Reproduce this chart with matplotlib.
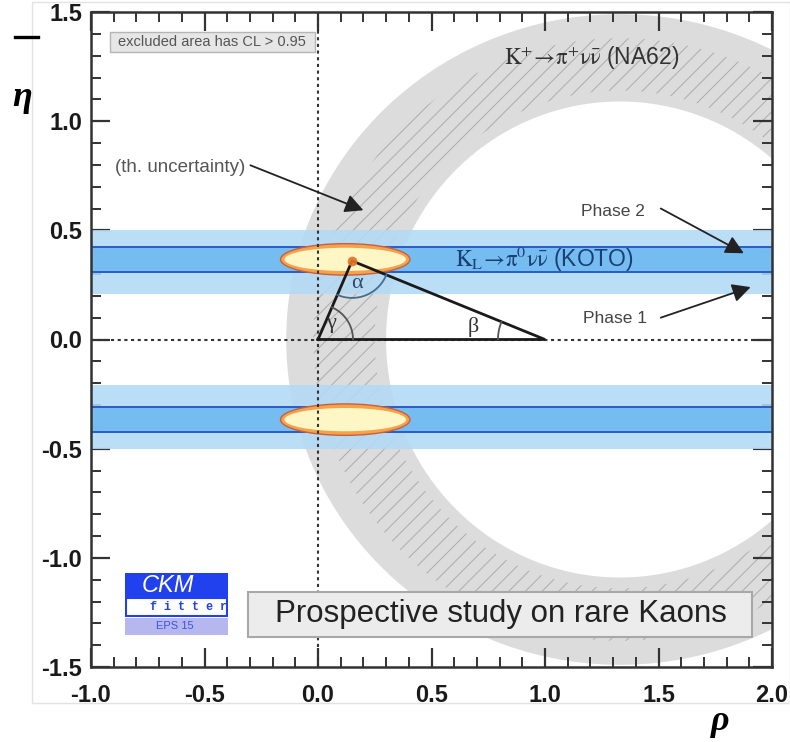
import numpy as np
import matplotlib
matplotlib.use('Agg')
import matplotlib.pyplot as plt
from matplotlib.patches import Ellipse, PathPatch, Rectangle
from matplotlib.path import Path
from matplotlib.lines import Line2D
from matplotlib.ticker import MultipleLocator

plt.rcParams['mathtext.fontset'] = 'stix'
plt.rcParams['axes.unicode_minus'] = False
plt.rcParams['hatch.linewidth'] = 0.7
plt.rcParams['hatch.color'] = '#ababab'

# K+ -> pi+ nu nubar (NA62): elliptical ring centred on the rho axis
ring_centre = 1.33
ring_outer = (1.47, 1.49)      # semi-axes (rho, eta)
ring_inner = (1.03, 1.09)
hatch_outer = (1.35, 1.38)     # theoretical uncertainty band
hatch_inner = (1.08, 1.14)

# K_L -> pi0 nu nubar (KOTO) bands in |eta|
phase1 = (0.21, 0.50)
phase2 = (0.31, 0.425)

# combined allowed regions (centre rho, centre |eta|, half widths)
combo_rho, combo_eta = 0.12, 0.367
combo_hw, combo_hh = 0.285, 0.072

# unitarity triangle
tri_rho = [0.0, 0.15, 1.0]
tri_eta = [0.0, 0.36, 0.0]

xticks = [-1.0, -0.5, 0.0, 0.5, 1.0, 1.5, 2.0]
yticks = [-1.5, -1.0, -0.5, 0.0, 0.5, 1.0, 1.5]


def ring_path(c, outer, inner, n=400):
    t = np.linspace(0, 2 * np.pi, n)
    out = np.column_stack([c + outer[0] * np.cos(t), outer[1] * np.sin(t)])
    inn = np.column_stack([c + inner[0] * np.cos(t[::-1]), inner[1] * np.sin(t[::-1])])
    codes = [Path.MOVETO] + [Path.LINETO] * (n - 2) + [Path.CLOSEPOLY]
    return Path(np.vstack([out, inn]), codes + codes)


W, H = 790, 742
fig = plt.figure(figsize=(W / 100, H / 100), dpi=100)
ax = fig.add_axes([91 / W, 1 - 667 / H, 681 / W, 655 / H])
ax.set_xlim(-1.0, 2.0)
ax.set_ylim(-1.5, 1.5)

# NA62 ring + hatched uncertainty
ax.add_patch(PathPatch(ring_path(ring_centre, ring_outer, ring_inner),
                       facecolor='#dcdcdc', edgecolor='none', zorder=1))
ax.add_patch(PathPatch(ring_path(ring_centre, hatch_outer, hatch_inner),
                       facecolor='none', edgecolor='#ababab', lw=0, hatch='//', zorder=1.1))

# KOTO bands, mirrored in eta
for s in (1, -1):
    lo1, hi1 = sorted([s * phase1[0], s * phase1[1]])
    lo2, hi2 = sorted([s * phase2[0], s * phase2[1]])
    ax.axhspan(lo1, hi1, color='#b2daf6', alpha=0.88, lw=0, zorder=2)
    ax.axhspan(lo2, hi2, color='#6fbaf0', alpha=0.92, lw=0, zorder=2.1)
    ax.axhline(lo2, color='#2b5cc4', lw=1.4, zorder=2.2)
    ax.axhline(hi2, color='#2b5cc4', lw=1.4, zorder=2.2)

    ax.add_patch(Ellipse((combo_rho, s * combo_eta), 2 * combo_hw, 2 * combo_hh,
                         facecolor='#f5a24a', edgecolor='#c86040', lw=1.0, zorder=3))
    ax.add_patch(Ellipse((combo_rho, s * combo_eta), 2 * combo_hw * 0.94, 2 * combo_hh * 0.74,
                         facecolor='#fff6c6', edgecolor='none', zorder=3.1))

# axes cross lines
ax.axvline(0, color='#333333', lw=1.5, ls=(0, (1.5, 1.7)), zorder=4)
ax.axhline(0, color='#333333', lw=1.5, ls=(0, (1.5, 1.7)), zorder=4)

# triangle
ax.plot(tri_rho + [tri_rho[0]], tri_eta + [tri_eta[0]], color='#1a1a1a', lw=2.0,
        solid_joinstyle='miter', zorder=5)
ax.plot([tri_rho[1]], [tri_eta[1]], 'o', color='#e2762c', ms=6, alpha=0.9, zorder=5.1)

# angle arcs (radius in pixels)
sx = ax.get_position().width * W / 3.0
sy = ax.get_position().height * H / 3.0


def angle_arc(i, r_px, color):
    v = np.array([tri_rho[i], tri_eta[i]])
    others = [j for j in range(3) if j != i]
    ang = []
    for j in others:
        d = np.array([tri_rho[j], tri_eta[j]]) - v
        ang.append(np.arctan2(d[1] * sy, d[0] * sx))
    a0, a1 = sorted(ang)
    if a1 - a0 > np.pi:
        a0, a1 = a1, a0 + 2 * np.pi
    t = np.linspace(a0, a1, 60)
    ax.plot(v[0] + r_px * np.cos(t) / sx, v[1] + r_px * np.sin(t) / sy,
            color=color, lw=1.3, zorder=5)


serif = ['Liberation Serif', 'DejaVu Serif']
angle_arc(1, 37, '#3f6f92')
angle_arc(0, 35, '#555555')
angle_arc(2, 47, '#555555')
ax.text(0.17, 0.255, 'α', fontsize=16, color='#2a4a6a', ha='center', va='center',
        family=serif, zorder=6)
ax.text(0.058, 0.072, 'γ', fontsize=16, color='#333333', ha='center', va='center',
        family=serif, zorder=6)
ax.text(0.685, 0.058, 'β', fontsize=16, color='#333333', ha='center', va='center',
        family=serif, zorder=6)

# labels
ax.text(1.205, 1.293, r'$\mathrm{K^{+}\!\rightarrow\!\pi^{+}\nu\bar{\nu}}$ (NA62)',
        fontsize=16.5, color='#333333', ha='center', va='center', family='Liberation Sans', zorder=6)
ax.text(0.998, 0.372, r'$\mathrm{K_{L}\!\rightarrow\!\pi^{0}\nu\bar{\nu}}$ (KOTO)',
        fontsize=16.5, color='#1c3f73', ha='center', va='center', family='Liberation Sans', zorder=6)

arrow = dict(arrowstyle='-|>,head_length=0.55,head_width=0.28', color='#222222', lw=1.3,
             mutation_scale=20, shrinkA=0, shrinkB=0)
ax.text(-0.893, 0.79, '(th. uncertainty)', fontsize=13.5, color='#555555',
        ha='left', va='center', family='Liberation Sans', zorder=6)
ax.annotate('', xy=(0.20, 0.592), xytext=(-0.298, 0.798), arrowprops=arrow, zorder=6)
ax.text(1.30, 0.584, 'Phase 2', fontsize=12.5, color='#444444', ha='center', va='center',
        family='Liberation Sans', zorder=6)
ax.annotate('', xy=(1.876, 0.395), xytext=(1.51, 0.60), arrowprops=arrow, zorder=6)
ax.text(1.307, 0.096, 'Phase 1', fontsize=12.5, color='#444444', ha='center', va='center',
        family='Liberation Sans', zorder=6)
ax.annotate('', xy=(1.906, 0.24), xytext=(1.51, 0.10), arrowprops=arrow, zorder=6)

# boxes
ax.add_patch(Rectangle((0.028, 0.939), 0.301, 0.0305, transform=ax.transAxes,
                       facecolor='#e6e6e6', edgecolor='#b5b5b5', lw=1, zorder=7))
ax.text(0.178, 0.954, 'excluded area has CL > 0.95', transform=ax.transAxes, fontsize=10.5,
        color='#555555', ha='center', va='center', family='Liberation Sans', zorder=7.1)
ax.add_patch(Rectangle((0.2305, 0.0458), 0.740, 0.0687, transform=ax.transAxes,
                       facecolor='#ececec', edgecolor='#a8a8a8', lw=1.5, zorder=7))
ax.text(0.602, 0.0802, 'Prospective study on rare Kaons', transform=ax.transAxes,
        fontsize=22.5, color='#222222', ha='center', va='center', family='Liberation Sans',
        zorder=7.1)

# ticks
ax.set_xticks(xticks)
ax.set_yticks(yticks)
ax.set_xticklabels([f'{v:.1f}' for v in xticks])
ax.set_yticklabels([f'{v:.1f}' for v in yticks])
ax.xaxis.set_minor_locator(MultipleLocator(0.1))
ax.yaxis.set_minor_locator(MultipleLocator(0.1))
ax.tick_params(which='both', direction='in', top=True, right=True, color='#333333')
ax.tick_params(which='major', length=14, width=1.6)
ax.tick_params(which='minor', length=7, width=1.4)
ax.tick_params(axis='x', pad=12)
ax.tick_params(axis='y', pad=6.5)
for lab in ax.get_xticklabels() + ax.get_yticklabels():
    lab.set_fontweight('bold')
    lab.set_fontsize(17)
    lab.set_family('Liberation Sans')
    lab.set_color('#1a1a1a')
for sp in ax.spines.values():
    sp.set_linewidth(1.8)
    sp.set_color('#333333')
    sp.set_zorder(8)

# axis symbols
fig.text(22 / W, 1 - 97 / H, 'η', fontsize=26, fontweight='bold', style='italic',
         family=serif, ha='center', va='center')
fig.add_artist(Line2D([15 / W, 38 / W], [1 - 37 / H, 1 - 37 / H], color='black', lw=2.4))
fig.text(720 / W, 1 - 722 / H, 'ρ', fontsize=26, fontweight='bold', style='italic',
         family=serif, ha='center', va='center')

# faint frame of the pasted figure
fig.add_artist(Rectangle((32 / W, 1 - 703 / H), 1 - 32 / W, 701 / H, transform=fig.transFigure,
                         facecolor='none', edgecolor='#e2e2e2', lw=1))

# CKMfitter logo
lg = fig.add_axes([125 / W, 1 - 635 / H, 103 / W, 62 / H])
lg.set_xlim(0, 1)
lg.set_ylim(0, 1)
lg.axis('off')
lg.add_patch(Rectangle((0, 0.597), 1, 0.403, facecolor='#2141ef', edgecolor='none'))
lg.text(0.42, 0.80, 'CKM', fontsize=17, style='italic', color='white', ha='center', va='center',
        family='Liberation Sans')
lg.add_patch(Rectangle((0.01, 0.30), 0.98, 0.297, facecolor='white', edgecolor='#2141ef', lw=1.5))
lg.text(0.62, 0.445, 'f i t t e r', fontsize=8.5, fontweight='bold', color='#2141ef',
        ha='center', va='center', family='Liberation Mono')
lg.add_patch(Rectangle((0, 0), 1, 0.28, facecolor='#b7b7f0', edgecolor='none'))
lg.text(0.485, 0.14, 'EPS 15', fontsize=8, color='#3a55e0', ha='center', va='center',
        family='Liberation Sans')

fig.savefig('out.png', dpi=100)
